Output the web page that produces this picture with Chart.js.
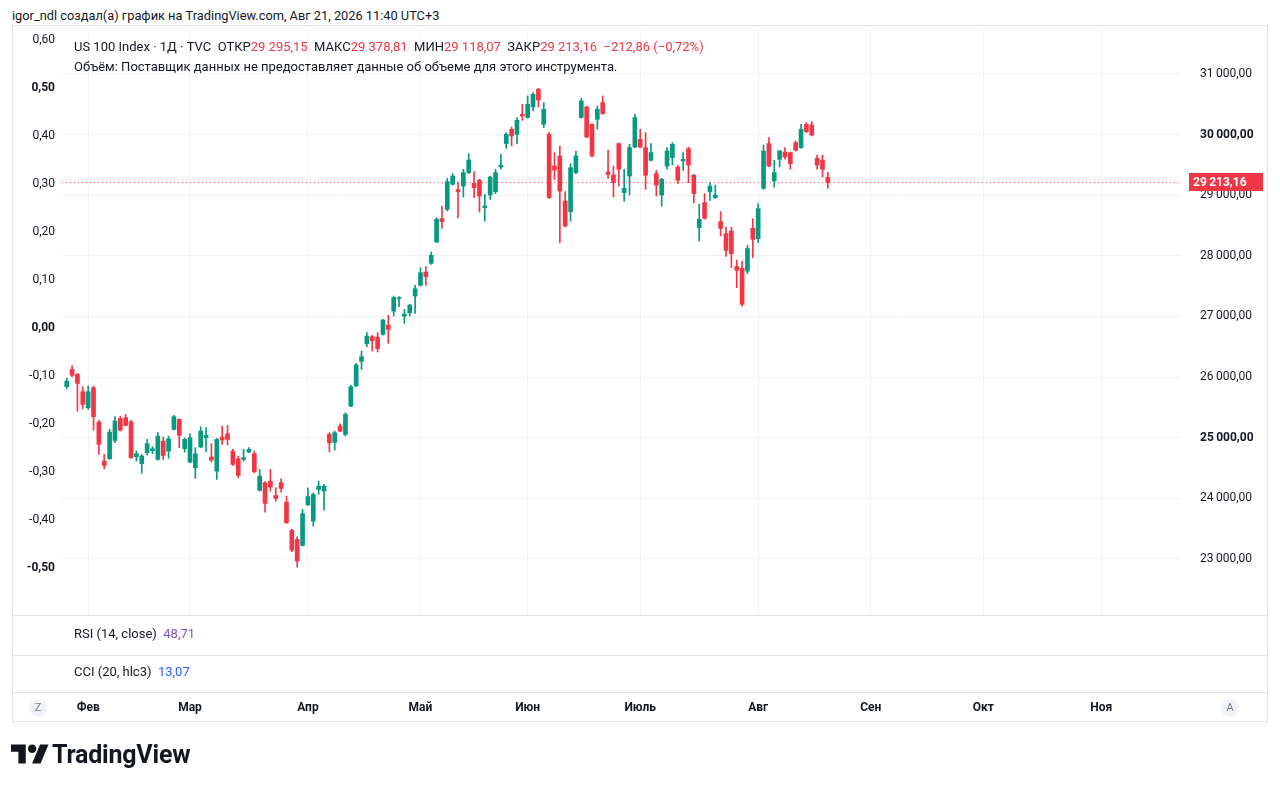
<!DOCTYPE html>
<html lang="ru">
<head>
<meta charset="utf-8">
<script src="https://cdn.jsdelivr.net/npm/chart.js@4.4.1/dist/chart.umd.min.js"></script>
<style>
  html, body { margin: 0; padding: 0; background: #fff; }
  body { width: 1280px; height: 790px; position: relative; overflow: hidden; font-family: Roboto, "Noto Sans", sans-serif; color: #131722; }
  .abs { position: absolute; white-space: nowrap; }
  #frame { left: 12px; top: 25px; width: 1254px; height: 695px; border: 1px solid #e0e3eb; }
  #wrap { left: 12px; top: 25px; width: 1256px; height: 697px; }
  .hline { position: absolute; left: 12px; width: 1256px; height: 1px; background: #e0e3eb; }
  .red { color: #F23645; }
  .circ { width: 18px; height: 18px; border-radius: 50%; background: #f0f3fa; color: #787b86; font-size: 11px; text-align: center; line-height: 18px; }
</style>
</head>
<body>
<div class="abs" style="left:12px; top:8px; font-size:12.8px;">igor_ndl создал(а) график на TradingView.com, Авг 21, 2026 11:40 UTC+3</div>
<div id="frame" class="abs"></div>
<div id="wrap" class="abs"><canvas id="chart"></canvas></div>
<div class="hline" style="top:615px;"></div>
<div class="hline" style="top:655px;"></div>
<div class="hline" style="top:692px;"></div>

<div class="abs" style="left:74px; top:39px; font-size:13px;">US 100 Index · 1Д · TVC&nbsp;&nbsp;ОТКР<span class="red">29 295,15</span>&nbsp;&nbsp;МАКС<span class="red">29 378,81</span>&nbsp;&nbsp;МИН<span class="red">29 118,07</span>&nbsp;&nbsp;ЗАКР<span class="red">29 213,16</span>&nbsp;&nbsp;<span class="red">−212,86 (−0,72%)</span></div>
<div class="abs" style="left:74px; top:59px; font-size:13px;">Объём: Поставщик данных не предоставляет данные об объеме для этого инструмента.</div>

<div class="abs" style="left:74px; top:626px; font-size:13px;">RSI (14, close)&nbsp; <span style="color:#7E57C2">48,71</span></div>
<div class="abs" style="left:74px; top:664px; font-size:13px;">CCI (20, hlc3)&nbsp; <span style="color:#2962FF">13,07</span></div>

<div class="abs circ" style="left:29px; top:699px;">Z</div>
<div class="abs circ" style="left:1221px; top:699px;">A</div>

<svg class="abs" style="left:11px; top:740px;" width="38" height="30" viewBox="0 0 36 28">
  <path d="M14 22H7V11H0V4h14v18z" fill="#131722"/>
  <path d="M28 22h-8l7.5-18h8L28 22z" fill="#131722"/>
  <circle cx="20" cy="8" r="4" fill="#131722"/>
</svg>
<div class="abs" style="left:52px; top:740px; font-size:25px; font-weight:700; letter-spacing:-0.2px;">TradingView</div>

<script>
// OHLC, дневные свечи US 100 Index (TVC), 27 янв – 20 авг 2026
const open = [
  25842, 26127, 26045, 25759, 25496, 25825, 25258, 24614, 24654, 24956,
  25319, 25331, 25265, 24687, 24572, 24753, 24786, 24642, 24944, 24779,
  25138, 25303, 24819, 24598, 24505, 24846, 25000, 24680, 24449, 25011,
  25066, 24779, 24654, 24642, 24763, 24736, 24131, 24258, 24285, 24048,
  24258, 23938, 23476, 23323, 23223, 23892, 23625, 24147, 24120, 25055,
  24923, 25192, 25055, 25522, 25852, 26260, 26552, 26667, 26660, 26705,
  26858, 27089, 27294, 27007, 27063, 27337, 27514, 27733, 27877, 28228,
  28614, 28768, 29180, 29093, 29152, 29373, 29197, 29251, 28796, 29004,
  29060, 29465, 29852, 30088, 30005, 30335, 30281, 30455, 30748, 30170,
  30005, 29482, 29647, 28904, 28730, 29373, 30281, 30455, 30170, 30253,
  30528, 29383, 29333, 29852, 29043, 29317, 29795, 29922, 29786, 29576,
  29357, 29004, 29482, 29621, 29465, 29565, 29769, 29329, 28466, 28878,
  29060, 28961, 28565, 28367, 28409, 27822, 27794, 27749, 28454, 28284,
  29114, 29852, 29234, 29593, 29713, 29703, 29868, 29786, 30170, 30158,
  29609, 29581, 29295.15
];
const high = [
  25979, 26189, 26061, 25842, 25852, 25852, 25286, 24725, 25138, 25347,
  25357, 25385, 25286, 24779, 24725, 24973, 24852, 25083, 25011, 25027,
  25368, 25314, 25000, 25066, 24836, 25182, 25166, 24902, 24989, 25192,
  25203, 24808, 24698, 24808, 24836, 24779, 24477, 24275, 24477, 24175,
  24324, 24037, 23488, 23367, 23818, 24175, 24092, 24285, 24230, 25083,
  25110, 25230, 25412, 25864, 26227, 26430, 26733, 26689, 26733, 26953,
  27019, 27337, 27327, 27118, 27200, 27514, 27805, 27822, 28063, 28631,
  28822, 29280, 29356, 29218, 29428, 29687, 29390, 29263, 29015, 29317,
  29428, 29675, 30033, 30125, 30281, 30500, 30637, 30693, 30764, 30528,
  30043, 29703, 29812, 29060, 29522, 29730, 30599, 30472, 30182, 30472,
  30637, 29741, 29482, 29860, 29428, 29840, 30335, 30088, 30033, 29852,
  29411, 29279, 29786, 29868, 29498, 29703, 29795, 29345, 28850, 29027,
  29208, 29168, 28730, 28475, 28475, 27931, 27914, 28174, 28614, 28862,
  29828, 29951, 29576, 29741, 29786, 29713, 29895, 30170, 30198, 30215,
  29663, 29663, 29378.81
];
const low = [
  25809, 26007, 25439, 25479, 25468, 25126, 24725, 24489, 24643, 24918,
  25110, 25192, 24659, 24614, 24411, 24713, 24736, 24631, 24642, 24659,
  25126, 24836, 24763, 24588, 24329, 24836, 24770, 24598, 24312, 24890,
  24879, 24544, 24340, 24614, 24753, 24423, 24120, 23773, 24120, 23955,
  24103, 23586, 23119, 22866, 23212, 23884, 23542, 24065, 23806, 24770,
  24797, 25100, 25027, 25512, 25847, 26128, 26502, 26430, 26414, 26693,
  26556, 27007, 27162, 26886, 27007, 27052, 27502, 27514, 27860, 28218,
  28454, 28740, 29168, 28631, 28970, 29357, 28961, 28723, 28574, 28932,
  29027, 29428, 29774, 29812, 29852, 30236, 30270, 30389, 30455, 30116,
  28949, 29263, 28218, 28475, 28574, 29357, 30270, 29950, 29630, 30088,
  30335, 29279, 28970, 29152, 28904, 29004, 29786, 29786, 29097, 29565,
  28987, 28822, 29428, 29498, 29191, 29411, 29208, 28878, 28244, 28603,
  28916, 28944, 28327, 27990, 27806, 27476, 27172, 27707, 27971, 28218,
  29097, 29465, 29135, 29465, 29593, 29428, 29730, 29774, 30033, 29977,
  29428, 29300, 29118.07
];
const close = [
  25934, 26028, 25896, 25550, 25759, 25347, 24890, 24543, 25093, 25275,
  25126, 25204, 24671, 24736, 24698, 24902, 24819, 25027, 24708, 24984,
  25347, 25039, 24973, 25000, 24736, 25110, 25039, 24631, 24973, 24962,
  24973, 24560, 24378, 24671, 24808, 24439, 24367, 23917, 24186, 23999,
  24164, 23598, 23146, 22965, 23747, 24031, 24065, 24202, 24202, 24918,
  25083, 25110, 25385, 25842, 26199, 26337, 26677, 26601, 26469, 26941,
  26788, 27311, 27311, 27040, 27188, 27459, 27723, 27657, 28009, 28603,
  28565, 29225, 29317, 29060, 29373, 29581, 29125, 28987, 28822, 29300,
  29373, 29494, 30005, 29977, 30236, 30307, 30500, 30665, 30571, 30418,
  28961, 29416, 29069, 28492, 29456, 29647, 30555, 29960, 29647, 30418,
  30346, 29345, 29208, 29428, 29114, 29786, 30281, 29795, 29329, 29703,
  29168, 29263, 29730, 29840, 29246, 29593, 29498, 29027, 28603, 28619,
  29152, 29004, 28454, 28090, 28036, 27761, 27200, 28119, 28273, 28779,
  29730, 29482, 29373, 29730, 29630, 29522, 29741, 30088, 30050, 29993,
  29498, 29428, 29213.16
];

// ось времени: торговые дни с первой видимой свечи, праздники биржи пропускаются
const firstDay = '2026-01-27';
const holidays = ['2026-02-16', '2026-04-03', '2026-05-25', '2026-06-19', '2026-07-03', '2026-09-07', '2026-11-26'];
const monthNames = ['Янв', 'Фев', 'Мар', 'Апр', 'Май', 'Июн', 'Июль', 'Авг', 'Сен', 'Окт', 'Ноя', 'Дек'];
const priceTicks = [23000, 24000, 25000, 26000, 27000, 28000, 29000, 30000, 31000];
const pctTicks = [-0.5, -0.4, -0.3, -0.2, -0.1, 0, 0.1, 0.2, 0.3, 0.4, 0.5, 0.6];

const X_MIN = -0.88, X_MAX = 207.7;

const days = [];
{
  const d = new Date(firstDay + 'T00:00:00Z');
  while (days.length < 215) {
    const s = d.toISOString().slice(0, 10);
    const wd = d.getUTCDay();
    if (wd !== 0 && wd !== 6 && !holidays.includes(s)) days.push(s);
    d.setUTCDate(d.getUTCDate() + 1);
  }
}
const monthStarts = {};
days.forEach((s, i) => {
  if (i > 0 && i < X_MAX - 3 && s.slice(5, 7) !== days[i - 1].slice(5, 7)) monthStarts[i] = monthNames[+s.slice(5, 7) - 1];
});

const UP = '#089981', DOWN = '#F23645';
const col = i => close[i] >= open[i] ? UP : DOWN;

function fmtPrice(v) {
  const [a, b] = v.toFixed(2).split('.');
  return a.replace(/\B(?=(\d{3})+(?!\d))/g, '\u2009') + ',' + b;
}
function fmtPct(v) {
  const r = Math.round(v * 100) / 100;
  return (Math.abs(r) < 1e-9 ? 0 : r).toFixed(2).replace('.', ',');
}

const lastPrice = {
  id: 'lastPrice',
  beforeDatasetsDraw(chart) {
    const { ctx, chartArea, scales } = chart;
    const y = Math.round(scales.y.getPixelForValue(close[close.length - 1])) + 0.5;
    ctx.save();
    ctx.strokeStyle = 'rgba(242,54,69,0.8)';
    ctx.lineWidth = 1;
    ctx.setLineDash([1, 3]);
    ctx.beginPath();
    ctx.moveTo(chartArea.left, y);
    ctx.lineTo(chartArea.right, y);
    ctx.stroke();
    ctx.restore();
  },
  afterDraw(chart) {
    const { ctx, chartArea, scales } = chart;
    const v = close[close.length - 1];
    const y = Math.round(scales.y.getPixelForValue(v));
    ctx.save();
    ctx.fillStyle = DOWN;
    ctx.fillRect(chartArea.right + 9, y - 9, 74, 18);
    ctx.fillStyle = '#fff';
    ctx.font = 'bold 12px Roboto';
    ctx.textBaseline = 'middle';
    ctx.textAlign = 'left';
    ctx.fillText(fmtPrice(v), chartArea.right + 13, y + 1);
    ctx.restore();
  }
};

const idx = close.map((_, i) => i);
const wicks = idx.map(i => ({ x: i, y: [low[i], high[i]] }));
const bodies = idx.map(i => ({ x: i, y: [open[i], close[i]] }));

const ctx = document.getElementById('chart').getContext('2d');
new Chart(ctx, {
  type: 'bar',
  data: {
    datasets: [
      { label: 'body', data: bodies, yAxisID: 'y', barThickness: 4, minBarLength: 1, grouped: false, order: 0,
        backgroundColor: c => col(c.dataIndex), borderWidth: 0 },
      { label: 'wick', data: wicks, yAxisID: 'y', barThickness: 1, minBarLength: 1, grouped: false, order: 1,
        backgroundColor: c => col(c.dataIndex), borderWidth: 0 }
    ]
  },
  options: {
    responsive: true,
    maintainAspectRatio: false,
    animation: false,
    events: [],
    layout: { padding: 0 },
    plugins: { legend: { display: false }, tooltip: { enabled: false } },
    scales: {
      x: {
        type: 'linear',
        min: X_MIN,
        max: X_MAX,
        offset: false,
        border: { display: false },
        grid: { color: '#f0f1f4', drawTicks: false, offset: false },
        afterBuildTicks: s => { s.ticks = Object.keys(monthStarts).map(k => ({ value: +k })); },
        afterFit: s => { s.height = 107; s.paddingLeft = 0; s.paddingRight = 0; },
        ticks: {
          autoSkip: false, maxRotation: 0, padding: 86,
          color: '#131722', font: { family: 'Roboto', size: 12, weight: 'bold' },
          callback: v => monthStarts[v] || ''
        }
      },
      y: {
        position: 'right',
        min: 22076,
        max: 31808,
        border: { display: false },
        grid: { color: '#f0f1f4', drawTicks: false },
        afterBuildTicks: s => { s.ticks = priceTicks.map(v => ({ value: v })); },
        afterFit: s => { s.width = 88; s.paddingTop = 0; s.paddingBottom = 0; },
        ticks: {
          padding: 20, color: '#131722',
          font: c => ({ family: 'Roboto', size: 12, weight: (c.tick && (c.tick.value === 30000 || c.tick.value === 25000)) ? 'bold' : 'normal' }),
          callback: v => fmtPrice(v)
        }
      },
      yl: {
        position: 'left',
        min: -0.598,
        max: 0.631,
        border: { display: false },
        grid: { display: false, drawTicks: false },
        afterBuildTicks: s => { s.ticks = pctTicks.map(v => ({ value: v })); },
        afterFit: s => { s.width = 50; s.paddingTop = 0; s.paddingBottom = 0; },
        ticks: {
          padding: 7, color: '#131722',
          font: c => ({ family: 'Roboto', size: 12, weight: (c.tick && [0.5, 0, -0.5].some(b => Math.abs(c.tick.value - b) < 1e-9)) ? 'bold' : 'normal' }),
          callback: v => fmtPct(v)
        }
      }
    }
  },
  plugins: [lastPrice]
});
</script>
</body>
</html>
